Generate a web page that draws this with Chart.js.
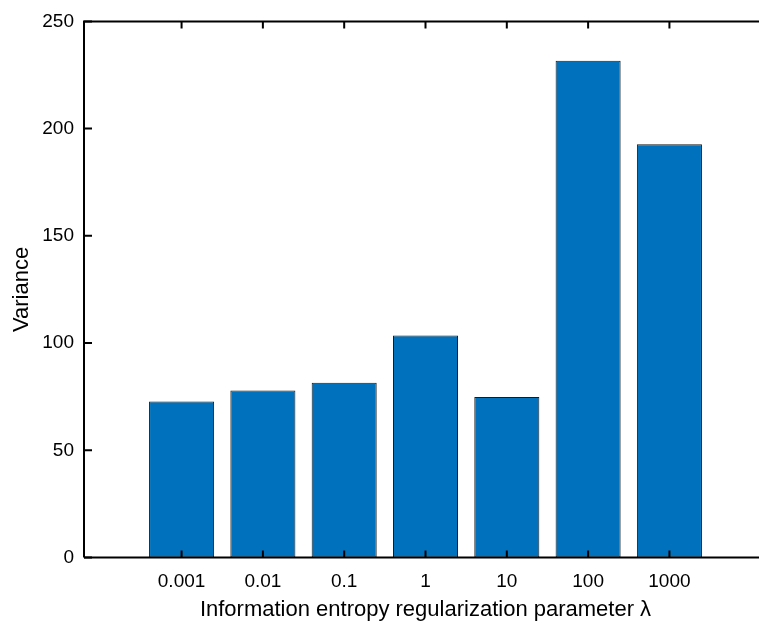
<!DOCTYPE html>
<html>
<head>
<meta charset="utf-8">
<script src="https://cdn.jsdelivr.net/npm/chart.js@4"></script>
<style>
  html, body { margin: 0; padding: 0; background: #fff; overflow: hidden; }
  #wrap { width: 772px; height: 623px; }
</style>
</head>
<body>
<div id="wrap"><canvas id="chart1" width="772" height="623"></canvas></div>
<script>
const lambdaLabels = ["0.001", "0.01", "0.1", "1", "10", "100", "1000"];
const varianceValues = [72.8, 77.9, 81.5, 103.5, 74.8, 231.6, 192.7];
const yTickValues = [0, 50, 100, 150, 200, 250];

const fontFamily = "'Liberation Sans', Arial, Helvetica, sans-serif";

// matlab style box: top line plus inward ticks
const frame = {
  id: "frame",
  afterDraw(chart) {
    const ctx = chart.ctx;
    const a = chart.chartArea;
    const xs = chart.scales.x;
    const ys = chart.scales.y;
    ctx.save();
    ctx.strokeStyle = "#000";
    ctx.lineWidth = 2;
    ctx.beginPath();
    ctx.moveTo(a.left, a.bottom);
    ctx.lineTo(a.left, a.top);
    ctx.lineTo(a.right, a.top);
    ctx.lineTo(a.right, a.bottom);
    ctx.lineTo(a.left, a.bottom);
    ctx.stroke();
    ctx.beginPath();
    yTickValues.forEach((v) => {
      const y = ys.getPixelForValue(v);
      ctx.moveTo(a.left, y);
      ctx.lineTo(a.left + 8, y);
    });
    lambdaLabels.forEach((l, i) => {
      const x = xs.getPixelForValue(i + 1);
      ctx.moveTo(x, a.bottom);
      ctx.lineTo(x, a.bottom - 7);
      ctx.moveTo(x, a.top);
      ctx.lineTo(x, a.top + 7);
    });
    ctx.stroke();
    ctx.restore();
  },
};

var chart1 = new Chart(document.getElementById("chart1"), {
  type: "bar",
  data: {
    datasets: [
      {
        label: "Variance",
        data: lambdaLabels.map((l, i) => ({ x: i + 1, y: varianceValues[i] })),
        backgroundColor: "#0072BD",
        borderColor: "#1a1a1a",
        borderWidth: 1,
        borderSkipped: false,
        categoryPercentage: 1,
        barPercentage: 0.8,
      },
    ],
  },
  options: {
    responsive: false,
    animation: false,
    devicePixelRatio: 1,
    layout: { padding: { top: 20, right: 5, left: 0, bottom: 0 } },
    plugins: { legend: { display: false }, tooltip: { enabled: false } },
    scales: {
      x: {
        type: "linear",
        offset: false,
        min: -0.2,
        max: 8.2,
        afterBuildTicks: (scale) => {
          scale.ticks = lambdaLabels.map((l, i) => ({ value: i + 1 }));
        },
        afterFit: (scale) => {
          scale.height = 65.5;
        },
        grid: { display: false, drawTicks: false },
        border: { display: false },
        ticks: {
          callback: (v) => lambdaLabels[v - 1] || "",
          color: "#000",
          padding: 13,
          maxRotation: 0,
          autoSkip: false,
          font: { family: fontFamily, size: 19 },
        },
        title: {
          display: true,
          text: "Information entropy regularization parameter λ",
          color: "#000",
          padding: { top: 2, bottom: 0 },
          font: { family: fontFamily, size: 22 },
        },
      },
      y: {
        min: 0,
        max: 250,
        afterBuildTicks: (scale) => {
          scale.ticks = yTickValues.map((v) => ({ value: v }));
        },
        afterFit: (scale) => {
          scale.width = 84;
        },
        grid: { display: false, drawTicks: false },
        border: { display: false },
        ticks: {
          color: "#000",
          padding: 10,
          font: { family: fontFamily, size: 19 },
        },
        title: {
          display: true,
          text: "Variance",
          color: "#000",
          padding: { top: 9, bottom: 0 },
          font: { family: fontFamily, size: 22 },
        },
      },
    },
  },
  plugins: [frame],
});
</script>
</body>
</html>
